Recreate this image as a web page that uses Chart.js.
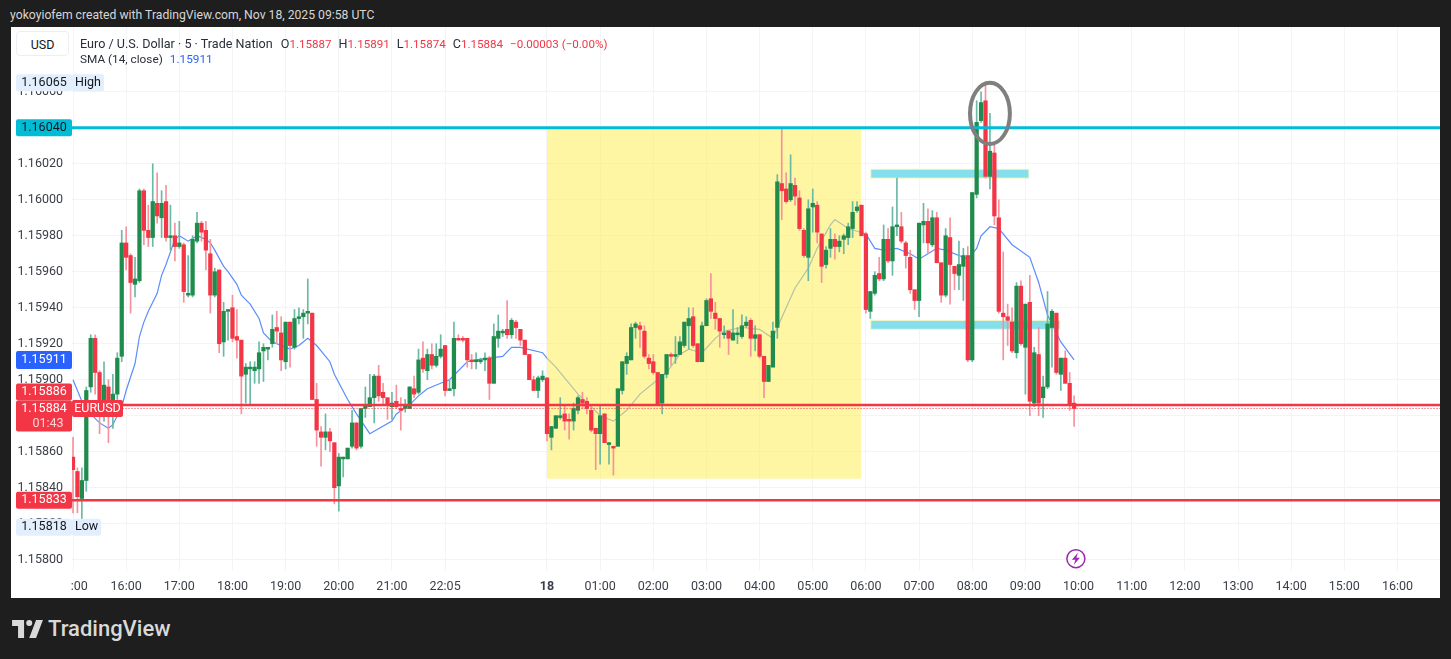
<!DOCTYPE html>
<html>
<head>
<meta charset="utf-8">
<title>EURUSD 5m</title>
<script src="https://cdn.jsdelivr.net/npm/chart.js@4.4.4/dist/chart.umd.min.js"></script>
<style>
  html, body { margin: 0; padding: 0; width: 1451px; height: 659px; background: #1e1e1e; overflow: hidden; font-family: Roboto, sans-serif; }
  #title { position: absolute; left: 10px; top: 8px; font-size: 12.2px; line-height: 15px; color: #d6d6d6; white-space: nowrap; }
  #panel { position: absolute; left: 11px; top: 27px; width: 1429px; height: 571px; background: #fff; }
  #usd { position: absolute; left: 16px; top: 31px; width: 53px; height: 25px; line-height: 25px; text-align: center; background: #fff; border: 1px solid #eceef2; border-radius: 4px; font-size: 12.5px; color: #131722; box-sizing: border-box; }
  .legend { position: absolute; left: 80px; font-size: 12.6px; line-height: 15px; color: #2a2e39; white-space: nowrap; }
  .legend b { font-weight: 400; font-size: 11.6px; color: #f23645; }
  .legend span { margin-left: 7px; }
  .legend span:first-child { margin-left: 8px; }
  .legend i { font-style: normal; font-size: 11.8px; color: #2962ff; margin-left: 7px; }
  #logo { position: absolute; left: 12px; top: 617px; color: #d9d9d9; display: flex; align-items: center; }
  #logo span { font-size: 22px; font-weight: 500; margin-left: 5px; line-height: 24px; }
</style>
</head>
<body>
<div id="title">yokoyiofem created with TradingView.com, Nov 18, 2025 09:58 UTC</div>
<div id="panel"><canvas id="chart" width="1429" height="571"></canvas></div>
<div id="usd">USD</div>
<div class="legend" style="top:36px">Euro / U.S. Dollar · 5 · Trade Nation<span>O<b>1.15887</b></span><span>H<b>1.15891</b></span><span>L<b>1.15874</b></span><span>C<b>1.15884</b></span><span><b>−0.00003 (−0.00%)</b></span></div>
<div class="legend" style="top:52px;font-size:11.8px">SMA (14, close)<i>1.15911</i></div>
<div id="logo">
  <svg width="31" height="18" viewBox="0 0 36 21"><path fill="#d9d9d9" d="M14 0H0v7h7v14h7V0Zm14 21h-8L28 0h8l-8 21ZM20 7a3.5 3.5 0 1 0 0-7 3.5 3.5 0 0 0 0 7Z"/></svg>
  <span>TradingView</span>
</div>
<script>
// One entry per 5 minute bar
const opens = [
  1.15857,1.15849,1.15834,1.15844,1.15896,1.15923,1.15904,1.15884,1.15896,1.15884,
  1.15892,1.15913,1.15976,1.15969,1.15953,1.15955,1.16005,1.15983,1.15979,1.15998,
  1.15990,1.15999,1.15979,1.15980,1.15974,1.15975,1.15947,1.15947,1.15977,1.15987,
  1.15983,1.15970,1.15947,1.15961,1.15921,1.15938,1.15940,1.15924,1.15922,1.15903,
  1.15906,1.15905,1.15906,1.15916,1.15917,1.15920,1.15929,1.15926,1.15910,1.15932,
  1.15918,1.15934,1.15935,1.15937,1.15937,1.15889,1.15871,1.15868,1.15871,1.15865,
  1.15841,1.15856,1.15856,1.15863,1.15876,1.15863,1.15884,1.15885,1.15890,1.15902,
  1.15893,1.15890,1.15885,1.15888,1.15884,1.15884,1.15884,1.15895,1.15893,1.15912,
  1.15905,1.15914,1.15908,1.15913,1.15919,1.15894,1.15895,1.15923,1.15923,1.15923,
  1.15911,1.15910,1.15910,1.15911,1.15912,1.15898,1.15923,1.15926,1.15928,1.15925,
  1.15932,1.15928,1.15922,1.15914,1.15900,1.15894,1.15900,1.15901,1.15868,1.15873,
  1.15879,1.15881,1.15878,1.15877,1.15883,1.15889,1.15888,1.15883,1.15873,1.15870,
  1.15881,1.15864,1.15863,1.15863,1.15894,1.15909,1.15911,1.15929,1.15930,1.15927,
  1.15912,1.15910,1.15904,1.15887,1.15903,1.15914,1.15913,1.15914,1.15919,1.15930,
  1.15935,1.15920,1.15910,1.15930,1.15945,1.15937,1.15934,1.15925,1.15927,1.15922,
  1.15925,1.15924,1.15930,1.15933,1.15923,1.15925,1.15913,1.15899,1.15907,1.15929,
  1.16009,1.16006,1.16000,1.16008,1.16001,1.15983,1.15968,1.15996,1.15997,1.15981,
  1.15964,1.15973,1.15978,1.15974,1.15978,1.15979,1.15984,1.15994,1.15997,1.15981,
  1.15938,1.15948,1.15959,1.15956,1.15978,1.15966,1.15985,1.15985,1.15976,1.15968,
  1.15950,1.15944,1.15986,1.15988,1.15975,1.15990,1.15965,1.15947,1.15979,1.15963,
  1.15958,1.15963,1.15969,1.15911,1.16003,1.16044,1.16055,1.16013,1.16026,1.15990,
  1.15937,1.15935,1.15932,1.15915,1.15952,1.15918,1.15943,1.15887,1.15914,1.15890,
  1.15896,1.15929,1.15937,1.15903,1.15912,1.15898,1.15887
];
const highs = [
  1.15868,1.15851,1.15851,1.15896,1.15925,1.15925,1.15905,1.15910,1.15900,1.15903,
  1.15915,1.15983,1.15985,1.15970,1.15968,1.16006,1.16006,1.15997,1.16020,1.16015,
  1.16005,1.16008,1.15997,1.15987,1.15988,1.15976,1.15969,1.15980,1.15993,1.15988,
  1.15988,1.15978,1.15962,1.15961,1.15943,1.15939,1.15947,1.15939,1.15922,1.15909,
  1.15910,1.15910,1.15921,1.15920,1.15918,1.15936,1.15938,1.15935,1.15932,1.15932,
  1.15939,1.15940,1.15939,1.15956,1.15937,1.15898,1.15874,1.15881,1.15873,1.15865,
  1.15859,1.15857,1.15862,1.15883,1.15876,1.15884,1.15896,1.15903,1.15903,1.15908,
  1.15898,1.15890,1.15893,1.15897,1.15890,1.15889,1.15896,1.15902,1.15917,1.15921,
  1.15917,1.15920,1.15920,1.15925,1.15919,1.15900,1.15932,1.15925,1.15924,1.15923,
  1.15914,1.15915,1.15912,1.15915,1.15913,1.15931,1.15936,1.15928,1.15944,1.15934,
  1.15933,1.15928,1.15922,1.15914,1.15902,1.15902,1.15905,1.15901,1.15874,1.15880,
  1.15890,1.15886,1.15881,1.15887,1.15891,1.15893,1.15890,1.15886,1.15873,1.15886,
  1.15881,1.15865,1.15863,1.15895,1.15910,1.15915,1.15931,1.15932,1.15932,1.15930,
  1.15914,1.15914,1.15904,1.15903,1.15914,1.15915,1.15924,1.15924,1.15932,1.15940,
  1.15940,1.15920,1.15932,1.15945,1.15959,1.15943,1.15934,1.15930,1.15927,1.15939,
  1.15929,1.15936,1.15935,1.15934,1.15930,1.15925,1.15913,1.15908,1.15932,1.16014,
  1.16040,1.16015,1.16025,1.16012,1.16005,1.15984,1.16000,1.16006,1.15999,1.15981,
  1.15974,1.15984,1.15981,1.15980,1.15981,1.15987,1.15999,1.15999,1.15997,1.15982,
  1.15949,1.15960,1.15968,1.15986,1.15984,1.15996,1.16012,1.15993,1.15977,1.15972,
  1.15950,1.15987,1.15998,1.15995,1.15994,1.15993,1.15965,1.15984,1.15990,1.15963,
  1.15977,1.15973,1.15974,1.16004,1.16055,1.16060,1.16065,1.16048,1.16032,1.16000,
  1.15971,1.15942,1.15940,1.15954,1.15955,1.15942,1.15958,1.15918,1.15929,1.15902,
  1.15949,1.15939,1.15937,1.15912,1.15916,1.15904,1.15891
];
const lows = [
  1.15826,1.15826,1.15818,1.15838,1.15893,1.15892,1.15870,1.15877,1.15865,1.15873,
  1.15889,1.15910,1.15961,1.15937,1.15946,1.15954,1.15975,1.15974,1.15974,1.15987,
  1.15979,1.15977,1.15972,1.15966,1.15973,1.15943,1.15946,1.15946,1.15976,1.15977,
  1.15961,1.15937,1.15946,1.15915,1.15913,1.15922,1.15921,1.15912,1.15881,1.15887,
  1.15886,1.15898,1.15898,1.15899,1.15911,1.15918,1.15920,1.15905,1.15906,1.15907,
  1.15917,1.15931,1.15923,1.15931,1.15889,1.15863,1.15852,1.15861,1.15860,1.15831,
  1.15827,1.15846,1.15856,1.15862,1.15861,1.15862,1.15879,1.15885,1.15876,1.15888,
  1.15886,1.15878,1.15878,1.15884,1.15872,1.15882,1.15884,1.15890,1.15892,1.15904,
  1.15900,1.15906,1.15907,1.15912,1.15891,1.15894,1.15891,1.15922,1.15921,1.15907,
  1.15906,1.15906,1.15909,1.15905,1.15889,1.15898,1.15918,1.15924,1.15923,1.15923,
  1.15923,1.15919,1.15914,1.15900,1.15894,1.15890,1.15899,1.15866,1.15861,1.15873,
  1.15878,1.15872,1.15867,1.15872,1.15881,1.15884,1.15881,1.15871,1.15850,1.15853,
  1.15865,1.15853,1.15847,1.15863,1.15892,1.15903,1.15911,1.15923,1.15918,1.15912,
  1.15906,1.15903,1.15886,1.15881,1.15901,1.15908,1.15909,1.15914,1.15918,1.15917,
  1.15918,1.15910,1.15910,1.15930,1.15934,1.15928,1.15918,1.15923,1.15914,1.15922,
  1.15920,1.15923,1.15929,1.15913,1.15916,1.15912,1.15890,1.15899,1.15907,1.15923,
  1.15989,1.15998,1.15999,1.15997,1.15983,1.15968,1.15955,1.15982,1.15976,1.15954,
  1.15962,1.15968,1.15967,1.15971,1.15970,1.15975,1.15979,1.15993,1.15980,1.15937,
  1.15934,1.15947,1.15955,1.15955,1.15965,1.15958,1.15980,1.15976,1.15962,1.15948,
  1.15939,1.15935,1.15976,1.15970,1.15974,1.15965,1.15943,1.15946,1.15942,1.15950,
  1.15950,1.15944,1.15910,1.15910,1.16001,1.16043,1.16012,1.16006,1.15986,1.15937,
  1.15911,1.15919,1.15915,1.15912,1.15919,1.15892,1.15880,1.15885,1.15880,1.15879,
  1.15895,1.15907,1.15903,1.15894,1.15898,1.15883,1.15874
];
const closes = [
  1.15850,1.15835,1.15844,1.15894,1.15923,1.15904,1.15886,1.15897,1.15880,1.15892,
  1.15912,1.15976,1.15968,1.15954,1.15956,1.16005,1.15983,1.15979,1.15999,1.15991,
  1.15998,1.15979,1.15980,1.15974,1.15976,1.15949,1.15948,1.15978,1.15987,1.15982,
  1.15972,1.15947,1.15960,1.15920,1.15938,1.15939,1.15923,1.15922,1.15902,1.15907,
  1.15907,1.15907,1.15915,1.15918,1.15918,1.15928,1.15927,1.15911,1.15932,1.15919,
  1.15934,1.15935,1.15937,1.15938,1.15889,1.15872,1.15868,1.15871,1.15866,1.15840,
  1.15857,1.15857,1.15862,1.15876,1.15862,1.15884,1.15886,1.15890,1.15902,1.15891,
  1.15890,1.15886,1.15887,1.15885,1.15883,1.15886,1.15896,1.15892,1.15911,1.15906,
  1.15914,1.15908,1.15913,1.15917,1.15894,1.15895,1.15923,1.15922,1.15922,1.15911,
  1.15910,1.15911,1.15911,1.15912,1.15898,1.15924,1.15927,1.15927,1.15925,1.15933,
  1.15929,1.15922,1.15914,1.15900,1.15894,1.15901,1.15902,1.15870,1.15874,1.15880,
  1.15880,1.15877,1.15877,1.15884,1.15890,1.15887,1.15884,1.15872,1.15870,1.15880,
  1.15865,1.15865,1.15862,1.15895,1.15910,1.15913,1.15929,1.15931,1.15928,1.15913,
  1.15909,1.15904,1.15886,1.15903,1.15914,1.15913,1.15914,1.15921,1.15932,1.15934,
  1.15919,1.15910,1.15930,1.15944,1.15938,1.15934,1.15927,1.15926,1.15923,1.15926,
  1.15926,1.15930,1.15932,1.15923,1.15925,1.15913,1.15899,1.15908,1.15927,1.16010,
  1.16005,1.15999,1.16009,1.16002,1.15984,1.15969,1.15995,1.15998,1.15982,1.15963,
  1.15972,1.15978,1.15974,1.15977,1.15980,1.15985,1.15993,1.15996,1.15980,1.15939,
  1.15949,1.15958,1.15956,1.15978,1.15966,1.15985,1.15986,1.15977,1.15969,1.15950,
  1.15944,1.15987,1.15988,1.15976,1.15990,1.15965,1.15947,1.15980,1.15964,1.15959,
  1.15964,1.15969,1.15911,1.16004,1.16043,1.16054,1.16013,1.16027,1.15991,1.15938,
  1.15935,1.15933,1.15916,1.15952,1.15920,1.15942,1.15888,1.15915,1.15887,1.15896,
  1.15931,1.15938,1.15904,1.15912,1.15898,1.15886,1.15884
];

// SMA (14, close) at these bars
const smaBars = [0,2,4,6,8,9,11,12,14,15,16,17,19,20,21,23,24,26,28,30,31,32,34,35,37,38,40,42,43,45,47,49,51,53,55,58,59,62,64,67,72,73,76,78,80,83,85,89,91,94,97,99,101,106,107,109,114,117,119,122,125,128,131,134,137,139,142,145,147,151,155,158,159,161,163,166,168,171,172,175,179,181,183,186,189,191,193,195,197,200,202,204,205,207,209,212,216,218,220,223,226];
const smaValues = [1.15900,1.15888,1.15881,1.15876,1.15873,1.15875,1.15885,1.15894,1.15909,1.15924,1.15932,1.15938,1.15948,1.15958,1.15964,1.15978,1.15980,1.15977,1.15980,1.15978,1.15976,1.15972,1.15963,1.15960,1.15953,1.15947,1.15942,1.15934,1.15926,1.15921,1.15919,1.15917,1.15919,1.15923,1.15919,1.15910,1.15903,1.15889,1.15881,1.15870,1.15877,1.15881,1.15886,1.15891,1.15895,1.15898,1.15900,1.15910,1.15911,1.15912,1.15913,1.15918,1.15918,1.15915,1.15912,1.15907,1.15892,1.15885,1.15880,1.15877,1.15883,1.15892,1.15898,1.15904,1.15914,1.15917,1.15915,1.15923,1.15927,1.15929,1.15928,1.15923,1.15929,1.15940,1.15951,1.15962,1.15973,1.15986,1.15989,1.15984,1.15981,1.15973,1.15972,1.15973,1.15970,1.15967,1.15970,1.15973,1.15972,1.15969,1.15967,1.15973,1.15980,1.15985,1.15984,1.15975,1.15968,1.15954,1.15936,1.15921,1.15911];

// Axis ticks
const priceTicks = [1.158,1.1582,1.1584,1.1586,1.1588,1.159,1.1592,1.1594,1.1596,1.1598,1.16,1.1602,1.1604,1.1606];
const timeTickBars = [0,12,24,36,48,60,72,84,107,119,131,143,155,167,179,191,203,215,227,239,251,263,275,287,299];
const timeTickLabels = ['    :00','16:00','17:00','18:00','19:00','20:00','21:00','22:05','18','01:00','02:00','03:00','04:00','05:00','06:00','07:00','08:00','09:00','10:00','11:00','12:00','13:00','14:00','15:00','16:00'];

// Horizontal levels on the chart
const cyanLevel = 1.16040;
const upperRedLevel = 1.15886;
const lowerRedLevel = 1.15833;
const lastPrice = 1.15884;
const smaLast = 1.15911;
const dayHigh = 1.16065;
const dayLow = 1.15818;

// Drawn zones: [bar from, bar to, price top, price bottom]
const yellowZone = [107, 177.9, 1.16040, 1.15845];
const cyanZoneUpper = [180.1, 215.8, 1.16017, 1.16012];
const cyanZoneLower = [180.1, 222.8, 1.15933, 1.15928];
// Grey ellipse around the high: [center bar, center price, half width in bars, half height in price]
const highEllipse = [207, 1.16048, 4.5, 0.00017];
// Flash marker under the 10:00 bar: [bar, price]
const flashMark = [226.4, 1.15800];

const bars = opens.map((_, i) => i);
const isUp = opens.map((o, i) => closes[i] >= o);

// Draws yellow and cyan zones under the candles, but over the SMA
const zonesPlugin = {
    id: 'zones',
    beforeDatasetDraw(chart, args) {
        if (args.index !== 1) return;
        const { ctx, scales: { x, y } } = chart;
        const fillZone = (z, color, border) => {
            const left = x.getPixelForValue(z[0]);
            const top = y.getPixelForValue(z[2]);
            const w = x.getPixelForValue(z[1]) - left;
            const h = y.getPixelForValue(z[3]) - top;
            ctx.fillStyle = color;
            ctx.fillRect(left, top, w, h);
            if (border) {
                ctx.strokeStyle = border;
                ctx.lineWidth = 1;
                ctx.strokeRect(left, top, w, h);
            }
        };
        ctx.save();
        fillZone(yellowZone, 'rgba(255, 238, 88, 0.55)');
        fillZone(cyanZoneUpper, '#84deeb', '#fbf7c4');
        fillZone(cyanZoneLower, '#84deeb', '#fbf7c4');
        ctx.restore();
    }
};

// Price tags on the left scale, ellipse and flash marker
const overlayPlugin = {
    id: 'overlay',
    afterDraw(chart) {
        const { ctx, scales: { x, y } } = chart;
        ctx.save();

        // Ellipse around the high
        ctx.strokeStyle = '#7f7f7f';
        ctx.lineWidth = 4;
        ctx.beginPath();
        ctx.ellipse(
            x.getPixelForValue(highEllipse[0]),
            y.getPixelForValue(highEllipse[1]),
            x.getPixelForValue(highEllipse[2]) - x.getPixelForValue(0),
            y.getPixelForValue(highEllipse[1] - highEllipse[3]) - y.getPixelForValue(highEllipse[1]),
            0, 0, Math.PI * 2
        );
        ctx.stroke();

        // Flash marker
        const fx = x.getPixelForValue(flashMark[0]);
        const fy = y.getPixelForValue(flashMark[1]) - 1;
        ctx.strokeStyle = '#9c27b0';
        ctx.lineWidth = 1.5;
        ctx.beginPath();
        ctx.arc(fx, fy, 9, 0, Math.PI * 2);
        ctx.stroke();
        ctx.fillStyle = '#9c27b0';
        ctx.beginPath();
        ctx.moveTo(fx + 2, fy - 6);
        ctx.lineTo(fx - 4, fy + 1);
        ctx.lineTo(fx - 0.5, fy + 1);
        ctx.lineTo(fx - 2, fy + 6);
        ctx.lineTo(fx + 4, fy - 1);
        ctx.lineTo(fx + 0.5, fy - 1);
        ctx.closePath();
        ctx.fill();

        ctx.font = '12.5px Roboto, sans-serif';
        ctx.textBaseline = 'middle';
        const tag = (text, yc, h, bg, fg, left, width, align) => {
            ctx.fillStyle = bg;
            ctx.beginPath();
            ctx.roundRect(left, yc - h / 2, width, h, 2);
            ctx.fill();
            ctx.fillStyle = fg;
            ctx.textAlign = align || 'center';
            ctx.fillText(text, left + (align ? 3 : width / 2), yc);
        };

        const left = 5;
        const w = 56;
        const hiY = y.getPixelForValue(dayHigh);
        tag('High', hiY, 17, '#e3effd', '#131722', left + w, 32, 'left');
        tag(dayHigh.toFixed(5), hiY, 17, '#e3effd', '#131722', left, w);
        tag(cyanLevel.toFixed(5), y.getPixelForValue(cyanLevel), 17, '#00bcd4', '#131722', left, w);
        tag(smaLast.toFixed(5), y.getPixelForValue(smaLast), 18, '#2962ff', '#fff', left, w);
        // Crowded tags are pushed apart by the chart, so this one sits above its level
        tag(upperRedLevel.toFixed(5), y.getPixelForValue(upperRedLevel) - 13, 17, '#f23645', '#fff', left, w);

        const lastY = y.getPixelForValue(lastPrice);
        tag('EURUSD', lastY, 17, '#f23645', '#fff', left + w, 51);
        ctx.fillStyle = '#f23645';
        ctx.beginPath();
        ctx.roundRect(left, lastY - 8, w, 31, 2);
        ctx.fill();
        ctx.textAlign = 'center';
        ctx.fillStyle = '#fff';
        ctx.fillText(lastPrice.toFixed(5), left + w / 2, lastY);
        ctx.fillStyle = '#fbd3d7';
        ctx.fillText('01:43', left + w / 2 + 4, lastY + 15);

        tag(lowerRedLevel.toFixed(5), y.getPixelForValue(lowerRedLevel), 17, '#f23645', '#fff', left, w);
        const loY = y.getPixelForValue(dayLow);
        tag('Low', loY, 17, '#e3effd', '#131722', left + w, 29, 'left');
        tag(dayLow.toFixed(5), loY, 17, '#e3effd', '#131722', left, w);
        ctx.restore();
    }
};

function levelLine(value, color, width, dash) {
    return {
        type: 'line',
        data: [{ x: -1, y: value }, { x: 310, y: value }],
        borderColor: color,
        borderWidth: width,
        borderDash: dash || [],
        pointRadius: 0,
        order: 1
    };
}

// Chart.js keeps room for the outer tick labels; the original scale does not
function noPadding(s) {
    s.paddingLeft = s.paddingRight = s.paddingTop = s.paddingBottom = 0;
}

function renderChart() {
    const ctx = document.getElementById('chart').getContext('2d');
    new Chart(ctx, {
        data: {
            datasets: [
                {
                    type: 'line',
                    data: smaBars.map((b, i) => ({ x: b, y: smaValues[i] })),
                    borderColor: '#5b8cff',
                    borderWidth: 1.2,
                    pointRadius: 0,
                    tension: 0,
                    order: 5
                },
                {
                    // wicks
                    type: 'bar',
                    data: bars.map(i => ({ x: i, y: [lows[i], highs[i]] })),
                    backgroundColor: isUp.map(up => up ? '#6ab9a4' : '#f7929c'),
                    grouped: false,
                    barPercentage: 1,
                    categoryPercentage: 1,
                    maxBarThickness: 1,
                    order: 4
                },
                {
                    // bodies
                    type: 'bar',
                    data: bars.map(i => ({ x: i, y: [opens[i], closes[i]] })),
                    backgroundColor: isUp.map(up => up ? '#1f8b4c' : '#f23645'),
                    grouped: false,
                    barPercentage: 1,
                    categoryPercentage: 1,
                    maxBarThickness: 3.6,
                    minBarLength: 1,
                    order: 3
                },
                levelLine(cyanLevel, '#00bcd4', 3),
                levelLine(upperRedLevel, '#f23645', 2.5),
                levelLine(lowerRedLevel, '#f23645', 2.5),
                levelLine(lastPrice, '#f23645', 1, [1, 2])
            ]
        },
        options: {
            responsive: false,
            animation: false,
            devicePixelRatio: 1,
            layout: { padding: 0 },
            plugins: { legend: { display: false }, tooltip: { enabled: false } },
            scales: {
                x: {
                    type: 'linear',
                    offset: false,
                    min: -0.226,
                    max: 308.6,
                    afterBuildTicks: s => { s.ticks = timeTickBars.map(v => ({ value: v })); },
                    afterFit: s => { s.height = 27; noPadding(s); },
                    border: { display: false },
                    grid: { color: '#f3f4f6', drawTicks: false, offset: false },
                    ticks: {
                        autoSkip: false,
                        maxRotation: 0,
                        padding: 8,
                        color: '#3a3e48',
                        font: c => ({ family: 'Roboto, sans-serif', size: 12.5, weight: c.tick && c.tick.value === 107 ? '700' : '400' }),
                        callback: v => timeTickLabels[timeTickBars.indexOf(v)]
                    }
                },
                y: {
                    type: 'linear',
                    position: 'left',
                    min: 1.157937,
                    max: 1.160960,
                    afterBuildTicks: s => { s.ticks = priceTicks.map(v => ({ value: v })); },
                    afterFit: s => { s.width = 61; noPadding(s); },
                    border: { display: false },
                    grid: { color: '#f3f4f6', drawTicks: false },
                    ticks: {
                        padding: 9,
                        color: '#3a3e48',
                        font: { family: 'Roboto, sans-serif', size: 12.5 },
                        callback: v => v.toFixed(5)
                    }
                }
            }
        },
        plugins: [zonesPlugin, overlayPlugin]
    });
}

renderChart();
</script>
</body>
</html>
